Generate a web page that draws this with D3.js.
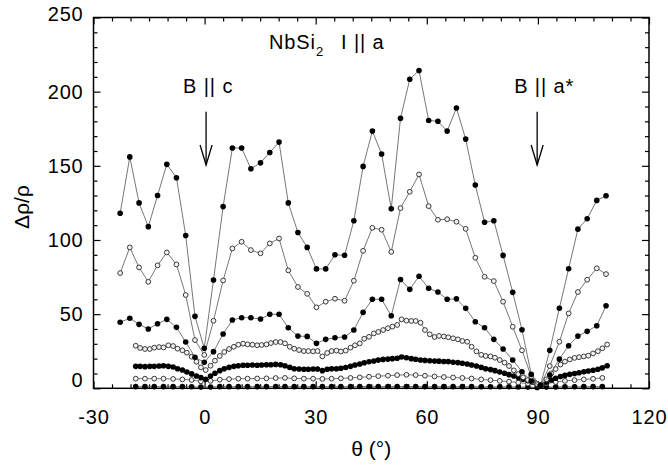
<!DOCTYPE html>
<html>
<head>
<meta charset="utf-8">
<script src="https://cdn.jsdelivr.net/npm/d3@7"></script>
<style>
  html, body { margin: 0; padding: 0; background: #fff; }
  svg text { font-family: "Liberation Sans", Arial, Helvetica, sans-serif; fill: #000; }
</style>
</head>
<body>
<svg id="chart" width="668" height="468"></svg>
<script>
// Rotation angles (degrees) of the coarse scans (every ~2.5 deg)
const angleCoarse = [-22.8,-20.2,-17.7,-15.2,-12.7,-10.2,-7.6,-5.1,-2.6,-0.1,2.4,5.0,7.5,10.0,12.5,15.1,17.6,20.1,22.6,25.2,27.7,30.2,32.7,35.2,37.8,40.3,42.8,45.3,47.8,50.4,52.9,55.4,57.9,60.5,63.0,65.5,68.0,70.5,73.1,75.6,78.1,80.6,83.2,85.7,88.2,90.7,93.2,95.8,98.3,100.8,103.3,105.9,108.4];

// Fine scans (every ~1.25 deg)
const angleFine = [
  -18.6,-17.4,-16.1,-14.8,-13.6,-12.3,-11.1,-9.8,-8.5,-7.3,
  -6.0,-4.8,-3.5,-2.2,-1.0,0.3,1.6,2.8,4.1,5.3,
  6.6,7.9,9.1,10.4,11.6,12.9,14.2,15.4,16.7,17.9,
  19.2,20.5,21.7,23.0,24.2,25.5,26.8,28.0,29.3,30.5,
  31.8,33.1,34.3,35.6,36.8,38.1,39.4,40.6,41.9,43.1,
  44.4,45.7,46.9,48.2,49.5,50.7,52.0,53.2,54.5,55.8,
  57.0,58.3,59.5,60.8,62.1,63.3,64.6,65.8,67.1,68.4,
  69.6,70.9,72.1,73.4,74.7,75.9,77.2,78.4,79.7,81.0,
  82.2,83.5,84.7,86.0,87.3,88.5,89.8,91.0,92.3,93.6,
  94.8,96.1,97.3,98.6,99.9,101.1,102.4,103.6,104.9,106.2,
  107.4,108.7];

// Low-field scans (every ~2.5 deg)
const angleMid = [
  -18.6,-16.1,-13.6,-11.1,-8.5,-6.0,-3.5,-1.0,1.6,4.1,
  6.6,9.1,11.6,14.2,16.7,19.2,21.7,24.2,26.8,29.3,
  31.8,34.3,36.8,39.4,41.9,44.4,46.9,49.5,52.0,54.5,
  57.0,59.5,62.1,64.6,67.1,69.6,72.1,74.7,77.2,79.7,
  82.2,84.7,87.3,89.8,92.3,94.8,97.3,99.9,102.4,104.9,
  107.4];

// Magnetoresistance Δρ/ρ, highest field first
const mr1 = [118,156,125,109,130,151,142,103,48.5,27,73,122.5,162,162,148,152,159,166,125,105,95,80.5,80.5,90,89.7,113,149.6,173.4,158,121,182,208.4,214.3,180.6,180,173.4,189,168,137,112,113,89.6,64.7,39.5,9.4,2,25.6,54,80.6,107.3,114.3,126.7,129.8];
const mr2 = [77.7,95,81.5,71.8,82.9,91.6,83.5,62.9,32.5,22.5,45.5,72.7,94.3,98.8,93.2,91,97.7,101,79.5,68.3,63.7,54.6,58.4,60.4,59,72.5,92.7,108.2,106.9,92,121.5,132.5,144.2,122.8,113.6,114,112.3,107.5,88,75.2,72.3,58.4,41.5,25.6,8,2,15,31.4,50.5,64.9,73.2,80.9,77];
const mr3 = [44.5,47.2,43.1,40,43.5,46.5,41.1,31.2,20.9,17.5,24.7,36.6,46,47.6,47.6,46.7,49.9,49.9,40.8,35.2,35,30.3,33,34.1,34.6,39.3,51.2,60,60,48.9,73.4,66.7,75.5,67.4,64.9,60,60.3,53.9,44.9,40.8,33,26.5,19.1,11.2,5,1.5,9,19.7,28.7,35.2,38.4,42.2,55.7];
const mr4 = [
  28.7,27.2,26.5,26.5,27.4,27.8,27.6,29.0,28.5,26.7,
  25.6,24.0,21.3,17.9,14.1,12.3,15.2,18.6,21.8,24.5,
  26.5,28.0,29.4,30.1,29.6,29.4,29.0,29.2,29.6,30.5,
  31.2,31.2,30.3,28.0,26.7,25.8,25.1,25.1,24.9,25.1,
  21.5,23.8,25.1,25.4,24.8,25.4,27.4,29.0,30.3,33.4,
  34.7,37.0,38.0,39.3,40.5,41.6,42.7,46.5,45.6,45.4,
  45.4,44.2,39.3,36.4,34.6,35.3,35.0,34.4,33.7,33.0,
  31.9,31.4,28.0,24.9,22.6,21.8,21.5,20.6,19.1,17.3,
  15.0,12.1,9.6,7.4,5.6,4.3,2.9,2.0,6.0,10.0,
  13.0,16.0,18.0,19.5,20.5,21.0,21.5,22.0,23.5,25.0,
  27.0,29.5];
const mr5 = [
  14.8,14.8,14.6,14.8,14.8,15.0,15.2,14.8,14.4,13.2,
  12.3,11.0,9.7,8.3,7.2,6.1,8.3,10.1,11.9,13.2,
  14.1,14.8,15.2,15.5,15.5,15.7,15.5,15.7,15.9,15.9,
  16.1,15.9,15.2,14.1,13.2,13.0,12.8,12.8,13.0,13.0,
  11.9,12.8,13.2,13.2,13.5,14.0,14.8,15.7,16.4,17.2,
  17.9,18.4,19.0,19.5,19.7,20.0,20.3,21.1,20.6,20.0,
  19.6,19.1,18.8,18.6,18.4,18.3,18.1,18.0,17.6,17.3,
  16.9,16.4,15.7,15.0,14.1,13.2,12.6,11.9,11.0,10.1,
  9.2,8.3,7.2,6.1,5.2,4.3,3.0,2.2,4.0,5.6,
  6.8,7.9,8.7,9.4,10.0,10.5,11.1,11.7,12.2,12.8,
  13.8,15.2];
const mr6 = [
  6.5,6.5,6.5,6.5,6.3,6.0,5.6,4.7,5.0,5.8,
  6.2,6.5,6.5,6.6,6.7,6.9,7.0,6.7,6.5,6.5,
  6.3,6.5,6.7,7.0,7.4,7.8,8.2,8.5,8.9,9.1,
  8.9,8.5,8.0,7.6,7.3,7.0,6.6,6.0,5.5,5.0,
  4.5,3.9,3.2,2.5,3.2,4.2,5.0,5.5,6.0,6.4,
  7.0];
const mr7 = [
  1.1,1.1,1.1,1.1,1.1,1.1,1.0,0.8,0.9,1.1,
  1.1,1.1,1.1,1.1,1.1,1.2,1.2,1.1,1.1,1.1,
  1.1,1.1,1.1,1.1,1.2,1.2,1.2,1.2,1.2,1.2,
  1.2,1.1,1.1,1.1,1.1,1.1,1.1,1.0,1.0,1.0,
  1.0,0.9,0.8,0.6,0.8,0.9,1.0,1.0,1.1,1.1,
  1.1];

const xMajor = [-30, 0, 30, 60, 90, 120];
const yMajor = [0, 50, 100, 150, 200, 250];

const series = [
  { angles: angleCoarse, values: mr1, open: false },
  { angles: angleCoarse, values: mr2, open: true },
  { angles: angleCoarse, values: mr3, open: false },
  { angles: angleFine,   values: mr4, open: true },
  { angles: angleFine,   values: mr5, open: false },
  { angles: angleMid,    values: mr6, open: true },
  { angles: angleMid,    values: mr7, open: false }
];

(function draw() {
  const svg = d3.select("#chart");
  const pLeft = 93.5, pRight = 649, pTop = 17.5, pBottom = 388.3;

  const x = d3.scaleLinear().domain([-30, 120]).range([pLeft, pRight]);
  const y = d3.scaleLinear().domain([0, 250]).range([pBottom, pTop]);

  const xMinor = d3.range(-30, 121, 5).filter(v => !xMajor.includes(v));
  const yMinor = d3.range(0, 251, 10).filter(v => !yMajor.includes(v));
  const plain = d => String(d);   // ASCII hyphen for negatives

  function styleAxis(g) {
    g.select(".domain").remove();
    g.selectAll("line").attr("stroke", "#000").attr("stroke-width", 1.2);
    g.selectAll("text").style("font-size", "20px").style("letter-spacing", "0.8px")
      .attr("fill", "#000");
  }

  // bottom axis (labels + inward ticks)
  svg.append("g").attr("transform", `translate(0,${pBottom})`)
    .call(d3.axisBottom(x).tickValues(xMajor).tickSize(-7).tickPadding(22).tickFormat(plain))
    .call(styleAxis);
  svg.append("g").attr("transform", `translate(0,${pBottom})`)
    .call(d3.axisBottom(x).tickValues(xMinor).tickSize(-4).tickFormat(""))
    .call(styleAxis);
  // top axis
  svg.append("g").attr("transform", `translate(0,${pTop})`)
    .call(d3.axisTop(x).tickValues(xMajor).tickSize(-7).tickFormat(""))
    .call(styleAxis);
  svg.append("g").attr("transform", `translate(0,${pTop})`)
    .call(d3.axisTop(x).tickValues(xMinor).tickSize(-4).tickFormat(""))
    .call(styleAxis);
  // left axis
  const yAxisG = svg.append("g").attr("transform", `translate(${pLeft},0)`)
    .call(d3.axisLeft(y).tickValues(yMajor).tickSize(-7).tickPadding(10).tickFormat(plain))
    .call(styleAxis);
  yAxisG.selectAll(".tick text").attr("dy", d => d === 0 ? "-0.1em" : (d === 250 ? "0.15em" : "0.32em"));
  svg.append("g").attr("transform", `translate(${pLeft},0)`)
    .call(d3.axisLeft(y).tickValues(yMinor).tickSize(-4).tickFormat(""))
    .call(styleAxis);
  // right axis
  svg.append("g").attr("transform", `translate(${pRight},0)`)
    .call(d3.axisRight(y).tickValues(yMajor).tickSize(-7).tickFormat(""))
    .call(styleAxis);
  svg.append("g").attr("transform", `translate(${pRight},0)`)
    .call(d3.axisRight(y).tickValues(yMinor).tickSize(-4).tickFormat(""))
    .call(styleAxis);

  // plot frame
  svg.append("rect")
    .attr("x", pLeft).attr("y", pTop)
    .attr("width", pRight - pLeft).attr("height", pBottom - pTop)
    .attr("fill", "none").attr("stroke", "#000").attr("stroke-width", 1.5);

  // curves, lowest field drawn first
  const line = d3.line().x(d => x(d[0])).y(d => y(d[1]));
  series.slice().reverse().forEach(s => {
    const pts = s.angles.map((a, i) => [a, s.values[i]]);
    const g = svg.append("g");
    g.append("path").datum(pts)
      .attr("d", line).attr("fill", "none")
      .attr("stroke", "#666").attr("stroke-width", 0.9);
    g.selectAll("circle").data(pts).join("circle")
      .attr("cx", d => x(d[0])).attr("cy", d => y(d[1]))
      .attr("r", s.open ? 2.4 : 2.8)
      .attr("fill", s.open ? "#f2f2f2" : "#000")
      .attr("stroke", s.open ? "#3a3a3a" : "none")
      .attr("stroke-width", 1);
  });

  // sample label
  const title = svg.append("text").attr("x", 269).attr("y", 48.5)
    .style("font-size", "20px").style("letter-spacing", "0.9px");
  title.append("tspan").text("NbSi");
  title.append("tspan").attr("dy", 7).style("font-size", "13px").text("2");
  svg.append("text").attr("x", 341).attr("y", 48.5)
    .style("font-size", "20px").style("letter-spacing", "0.9px").text("I || a");

  // field-direction arrows
  function fieldArrow(theta, label) {
    const ax = x(theta);
    svg.append("text").attr("x", ax - 23).attr("y", 93.3)
      .style("font-size", "20px").style("letter-spacing", "0.9px").text(label);
    svg.append("line").attr("x1", ax).attr("x2", ax).attr("y1", 111.7).attr("y2", 165)
      .attr("stroke", "#000").attr("stroke-width", 1.3);
    svg.append("path")
      .attr("d", `M${ax - 6},145 L${ax},165 L${ax + 6},145`)
      .attr("fill", "none").attr("stroke", "#000").attr("stroke-width", 1.3);
  }
  fieldArrow(0.4, "B || c");
  fieldArrow(89.8, "B || a*");

  // axis titles
  svg.append("text")
    .attr("transform", "translate(29,207) rotate(-90)")
    .attr("text-anchor", "middle")
    .style("font-size", "21px").text("Δρ/ρ");
  svg.append("text")
    .attr("x", (pLeft + pRight) / 2).attr("y", 456)
    .attr("text-anchor", "middle")
    .style("font-size", "21px").text("θ (°)");
})();
</script>
</body>
</html>
